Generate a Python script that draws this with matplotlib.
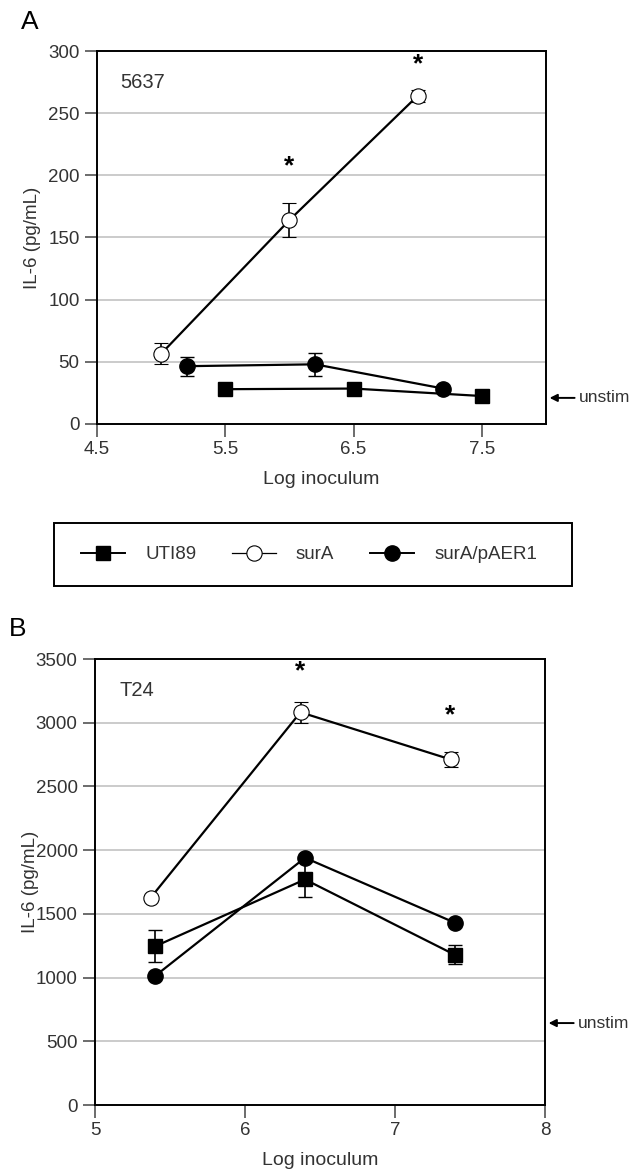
import matplotlib.pyplot as plt
from matplotlib.lines import Line2D
from matplotlib.patches import Rectangle

plt.rcParams['font.family'] = ['Liberation Sans', 'DejaVu Sans']

# Panel A (5637 cells)
a_uti_x = [5.5, 6.5, 7.5]
a_uti_y = [28, 28.5, 22.5]
a_uti_err = [2, 1.5, 1.5]
a_sura_x = [5.0, 6.0, 7.0]
a_sura_y = [56.5, 164, 264]
a_sura_err = [8.5, 14, 5]
a_paer_x = [5.2, 6.2, 7.2]
a_paer_y = [46.5, 48, 28.5]
a_paer_err = [7.5, 9, 2]
a_unstim = 21
a_stars = [(6.0, 207), (7.0, 289)]

# Panel B (T24 cells)
b_uti_x = [5.4, 6.4, 7.4]
b_uti_y = [1245, 1770, 1178]
b_uti_err = [125, 140, 75]
b_sura_x = [5.37, 6.37, 7.37]
b_sura_y = [1625, 3082, 2712]
b_sura_err = [20, 82, 62]
b_paer_x = [5.4, 6.4, 7.4]
b_paer_y = [1012, 1940, 1430]
b_paer_err = [15, 15, 15]
b_unstim = 643
b_stars = [(6.37, 3400), (7.37, 3060)]

labels = ['UTI89', 'surA', 'surA/pAER1']

W, H = 632, 1171
fig = plt.figure(figsize=(W / 100, H / 100), dpi=100)
axA = fig.add_axes([97 / W, 1 - 424 / H, 449 / W, 373 / H])
axB = fig.add_axes([95 / W, 1 - 1105 / H, 450 / W, 446 / H])

TXT = '#333333'


def draw_series(ax, x, y, err, marker, fill, ms):
    ax.errorbar(x, y, yerr=err, color='black', lw=1.6, marker=marker,
                ms=ms, mfc=fill, mec='black', mew=0.8 if fill == 'white' else 1,
                capsize=5, elinewidth=1.2, capthick=1.2, zorder=3)


def style_axes(ax, ylim, yticks, xlim, xticks, xticklabels):
    ax.set_xlim(*xlim)
    ax.set_ylim(*ylim)
    ax.set_yticks(yticks)
    ax.set_xticks(xticks)
    ax.set_xticklabels(xticklabels)
    for t in yticks[1:-1]:
        ax.axhline(t, color='#bdbdbd', lw=1.1, zorder=0)
    for s in ax.spines.values():
        s.set_linewidth(1.4)
    ax.tick_params(direction='out', length=9, width=1.1, labelsize=13.5,
                   colors='#444444', labelcolor=TXT, pad=3.5)
    ax.set_ylabel('IL-6 (pg/mL)', fontsize=13.5, color=TXT)
    ax.set_xlabel('Log inoculum', fontsize=14, color=TXT, labelpad=9)
    ax.yaxis.set_label_coords(-0.125, 0.5)


def unstim(ax, y):
    ax.annotate('unstim', xy=(1.008, y), xycoords=('axes fraction', 'data'),
                xytext=(1.073, y), textcoords=('axes fraction', 'data'),
                va='center', fontsize=12.5, color=TXT,
                arrowprops=dict(arrowstyle='-|>', color='black', lw=1.4,
                                mutation_scale=11, shrinkA=1, shrinkB=0))


# panel A
draw_series(axA, a_sura_x, a_sura_y, a_sura_err, 'o', 'white', 11)
draw_series(axA, a_paer_x, a_paer_y, a_paer_err, 'o', 'black', 11)
draw_series(axA, a_uti_x, a_uti_y, a_uti_err, 's', 'black', 10.5)
style_axes(axA, (0, 300), [0, 50, 100, 150, 200, 250, 300], (4.5, 8),
           [4.5, 5.5, 6.5, 7.5], ['4.5', '5.5', '6.5', '7.5'])
axA.text(4.68, 275, '5637', fontsize=14.5, va='center', ha='left', color=TXT)
for sx, sy in a_stars:
    axA.text(sx, sy, '*', fontsize=19, fontweight='bold', ha='center', va='center')
unstim(axA, a_unstim)

# panel B
draw_series(axB, b_sura_x, b_sura_y, b_sura_err, 'o', 'white', 11)
draw_series(axB, b_paer_x, b_paer_y, b_paer_err, 'o', 'black', 11)
draw_series(axB, b_uti_x, b_uti_y, b_uti_err, 's', 'black', 10.5)
style_axes(axB, (0, 3500), list(range(0, 3501, 500)), (5, 8),
           [5, 6, 7, 8], ['5', '6', '7', '8'])
axB.text(5.16, 3250, 'T24', fontsize=14.5, va='center', ha='left', color=TXT)
for sx, sy in b_stars:
    axB.text(sx, sy, '*', fontsize=19, fontweight='bold', ha='center', va='center')
unstim(axB, b_unstim)

# panel letters
fig.text(30 / W, 1 - 22 / H, 'A', fontsize=19, va='center', ha='center')
fig.text(18 / W, 1 - 629 / H, 'B', fontsize=19, va='center', ha='center')

# legend, with its own box drawn separately
handles = [
    Line2D([], [], color='black', lw=1.4, marker='s', ms=10.5, mfc='black', mec='black'),
    Line2D([], [], color='black', lw=0.9, marker='o', ms=11, mfc='white', mec='black', mew=0.8),
    Line2D([], [], color='black', lw=1.4, marker='o', ms=11, mfc='black', mec='black'),
]
leg = fig.legend(handles, labels, loc='center left', bbox_to_anchor=(81 / W, 1 - 554.5 / H),
                 bbox_transform=fig.transFigure, ncol=3, fontsize=13.5,
                 frameon=False, handlelength=2.35, columnspacing=1.9,
                 borderpad=0, handletextpad=1.07, borderaxespad=0)
for t in leg.get_texts():
    t.set_color(TXT)
fig.add_artist(Rectangle((54 / W, 1 - 586 / H), 518 / W, 63 / H,
                         transform=fig.transFigure, fill=False,
                         edgecolor='black', lw=1.4))

fig.savefig('out.png', dpi=100)
